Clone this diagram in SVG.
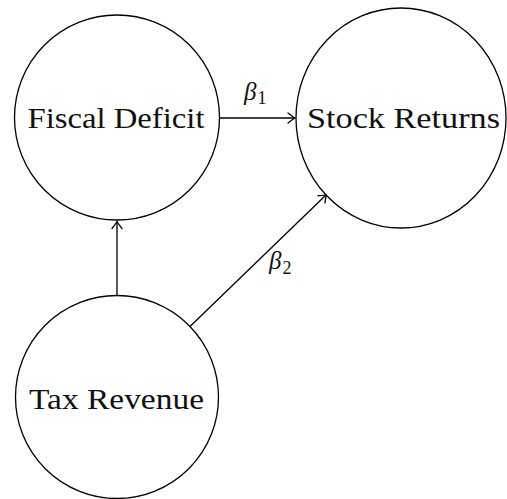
<svg xmlns="http://www.w3.org/2000/svg" width="507" height="499" viewBox="0 0 507 499">
<style>
.node{fill:#fff;stroke:#000;stroke-width:1.3}
.lbl{font-family:"Liberation Serif","Times New Roman",serif;font-size:30px;fill:#111;text-anchor:middle}
.edge{stroke:#000;stroke-width:1.3;fill:none;marker-end:url(#to)}
.beta{font-family:"Liberation Serif","Times New Roman",serif;font-style:italic;font-size:25px;fill:#111}
.sub{font-style:normal;font-size:18px}
</style>
<defs>
<marker id="to" viewBox="-8 -6 10 12" markerWidth="10" markerHeight="12" refX="0" refY="0" orient="auto" markerUnits="userSpaceOnUse">
<path d="M -7 -5 Q -2 -1 0 0 Q -2 1 -7 5" fill="none" stroke="#000" stroke-width="1.3" stroke-linecap="round"/>
</marker>
</defs>
<g id="connectors">
<line class="edge" x1="219.5" y1="118" x2="295" y2="118"/>
<line class="edge" x1="117" y1="296" x2="117" y2="221.5"/>
<line class="edge" x1="190" y1="326.5" x2="326.5" y2="194.5"/>
<text class="beta" x="244" y="100">β<tspan class="sub" dx="1" dy="4">1</tspan></text>
<text class="beta" x="269" y="269">β<tspan class="sub" dx="1" dy="5">2</tspan></text>
</g>
<g id="fiscal">
<circle class="node" cx="117" cy="117.5" r="102.5"/>
<text class="lbl" x="116" y="128" textLength="177" lengthAdjust="spacingAndGlyphs">Fiscal Deficit</text>
</g>
<g id="stock">
<ellipse class="node" cx="401" cy="118" rx="105" ry="110"/>
<text class="lbl" x="403.5" y="128" textLength="193" lengthAdjust="spacingAndGlyphs">Stock Returns</text>
</g>
<g id="tax">
<circle class="node" cx="117" cy="397" r="101.5"/>
<text class="lbl" x="116.5" y="409" textLength="175" lengthAdjust="spacingAndGlyphs">Tax Revenue</text>
</g>
</svg>
